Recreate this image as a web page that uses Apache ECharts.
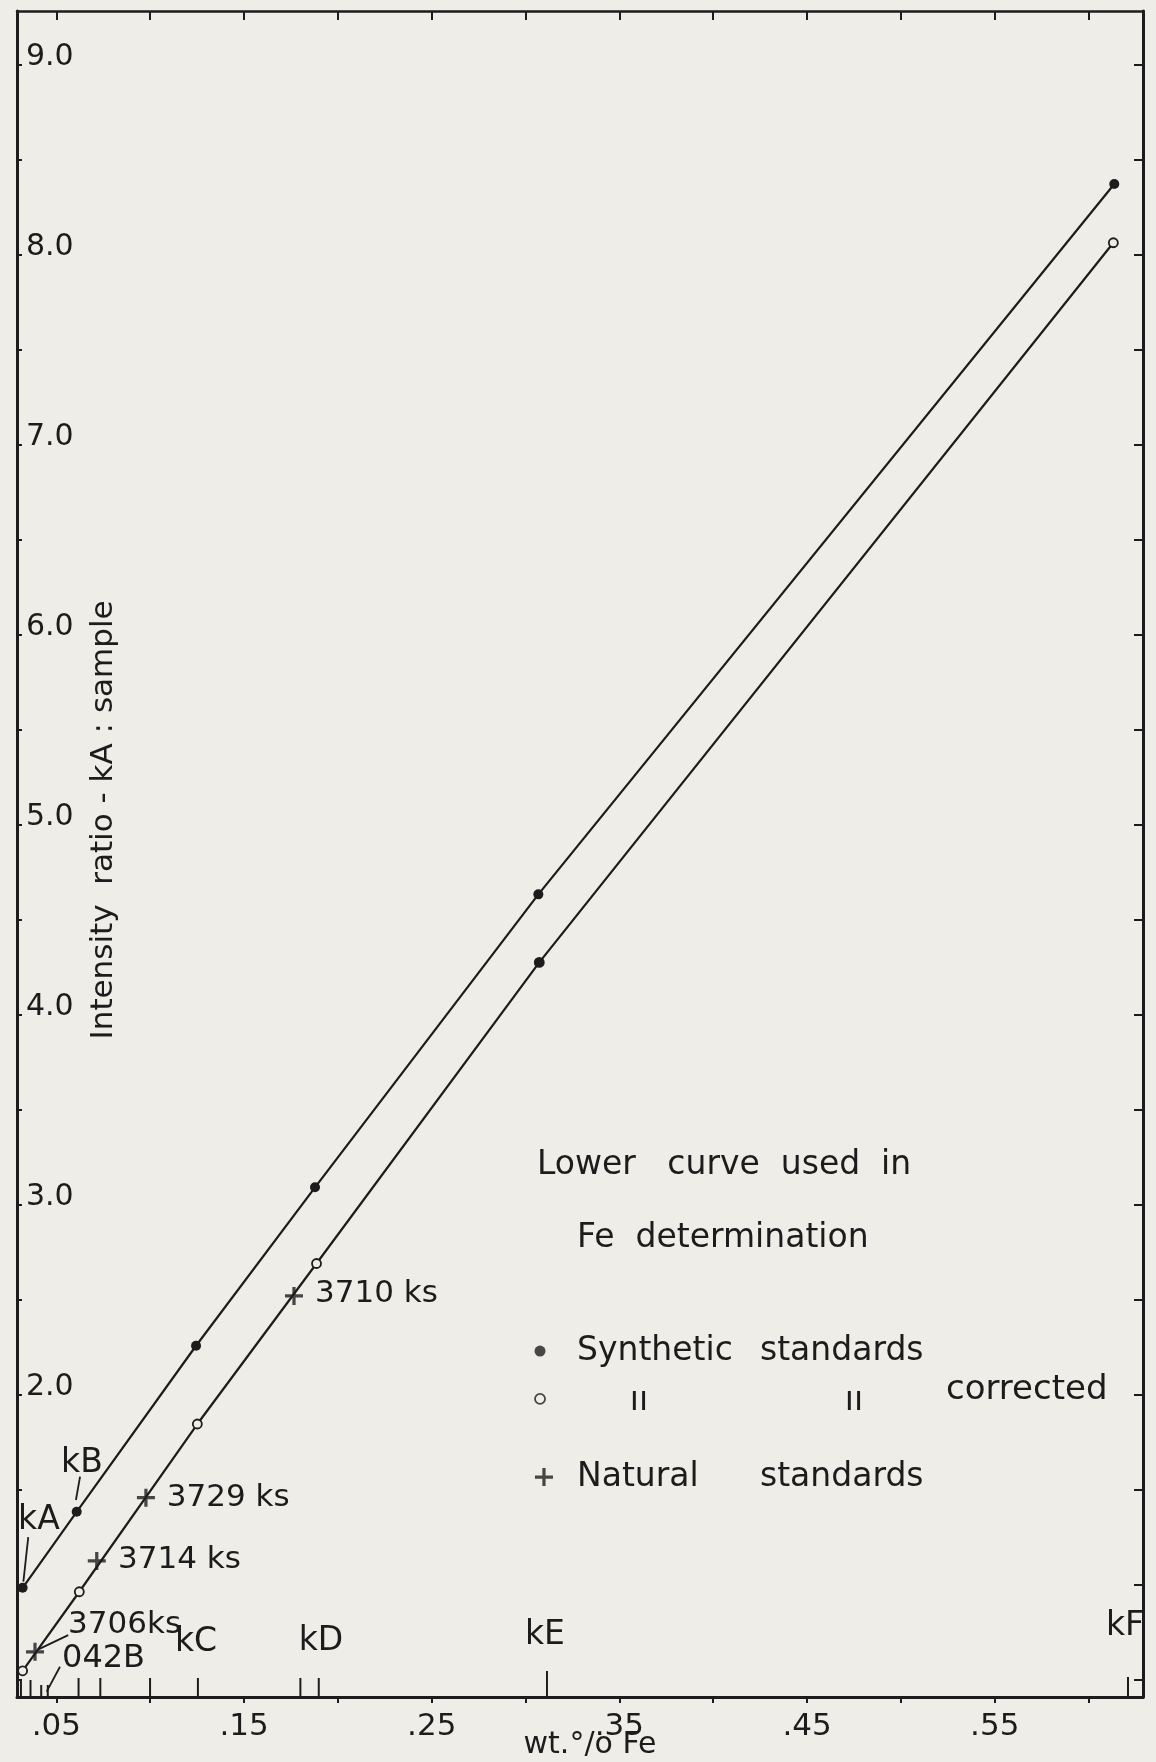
<!DOCTYPE html>
<html><head><meta charset="utf-8">
<script src="https://cdn.jsdelivr.net/npm/echarts@6/dist/echarts.min.js"></script>
<style>html,body{margin:0;padding:0;background:#efede8;overflow:hidden}#c{width:1156px;height:1762px}</style>
</head><body><div id="c"></div>
<script>
// ---- data ----
const upperX = [0.032, 0.0608, 0.1244, 0.1878, 0.3068, 0.6137];
const upperY = [0.985, 1.385, 2.259, 3.093, 4.635, 8.374];
const lowerX = [0.032, 0.0622, 0.1251, 0.1886, 0.3073, 0.6132];
const lowerY = [0.548, 0.964, 1.847, 2.692, 4.277, 8.065];
const lowerFilled = [false, false, false, false, true, false];
const naturalX = [0.0386, 0.0715, 0.0977, 0.1766];
const naturalY = [0.648, 1.126, 1.459, 2.521];
const sampleTickX = [0.0311, 0.0362, 0.0419, 0.0454, 0.0618, 0.0734, 0.0999, 0.1254, 0.18, 0.1898, 0.3114, 0.6210];
const xTickValues = [0.05, 0.10, 0.15, 0.20, 0.25, 0.30, 0.35, 0.40, 0.45, 0.50, 0.55, 0.60];
const xLabelValues = [0.05, 0.15, 0.25, 0.35, 0.45, 0.55];
const yTickValues = [0.5, 1.0, 1.5, 2.0, 2.5, 3.0, 3.5, 4.0, 4.5, 5.0, 5.5, 6.0, 6.5, 7.0, 7.5, 8.0, 8.5, 9.0];
const yLabelValues = [2, 3, 4, 5, 6, 7, 8, 9];
const xMin = 0.029, xMax = 0.629, yMin = 0.41, yMax = 9.285;

// annotations (text placed in data units)
const annoText = ['kA', 'kB', 'kC', 'kD', 'kE', 'kF', '3710 ks', '3729 ks', '3714 ks', '3706ks', '042B'];
const annoX = [0.0407, 0.0636, 0.1244, 0.191, 0.3103, 0.6194, 0.1878, 0.1088, 0.0828, 0.0562, 0.053];
const annoY = [1.342, 1.642, 0.697, 0.705, 0.736, 0.78, 2.531, 1.4575, 1.131, 0.789, 0.61];
const leaderFrom = [[0.035, 1.252], [0.0626, 1.570], [0.0563, 0.736], [0.0519, 0.569]];
const leaderTo = [[0.0324, 1.017], [0.0604, 1.447], [0.0404, 0.661], [0.0448, 0.438]];

const legendText = ['Lower   curve  used  in', 'Fe  determination', 'Synthetic', 'standards', 'ıı', 'ıı', 'corrected', 'Natural', 'standards'];
const legendX = [0.3061, 0.3274, 0.3274, 0.4249, 0.3604, 0.475, 0.524, 0.3274, 0.4249];
const legendY = [3.210, 2.826, 2.231, 2.231, 1.965, 1.965, 2.026, 1.568, 1.568];
const legendDot = [0.3077, 2.231];
const legendCircle = [0.3077, 1.979];
const legendPlus = [0.3098, 1.568];

const yTitle = 'Intensity  ratio - kA : sample';
const yTitlePos = [0.0756, 5.027];
const xTitle = 'wt.°/o Fe';

// ---- styles ----
const INK = '#1c1c1c';
const PAPER = '#efede8';
const FONT = '"DejaVu Sans"';
const annoAlign = ['center', 'center', 'center', 'center', 'center', 'center', 'left', 'left', 'left', 'left', 'left'];
const annoSize = [33, 33, 33, 33, 33, 33, 31, 31, 31, 31, 32];
const legendAlign = ['left', 'left', 'left', 'left', 'center', 'center', 'left', 'left', 'left'];
const legendSize = [33, 33, 33, 33, 33, 33, 34, 33, 33];
const sampleTickLen = [18, 17, 12, 12, 19, 19, 19, 19, 19, 19, 26, 20];
const plusPath = 'path://M4.1,0H5.9V4.1H10V5.9H5.9V10H4.1V5.9H0V4.1H4.1Z';

function textSeries(xs, ys, texts, aligns, sizes, rot) {
  return {
    type: 'custom', coordinateSystem: 'cartesian2d', silent: true, clip: false,
    data: xs.map((x, i) => [x, ys[i]]),
    encode: { x: 0, y: 1 },
    renderItem(params, api) {
      const i = params.dataIndex;
      const p = api.coord([api.value(0), api.value(1)]);
      return {
        type: 'text', x: p[0], y: p[1], rotation: rot || 0,
        style: { text: texts[i], fill: INK, font: `${sizes[i]}px ${FONT}`, align: aligns[i], verticalAlign: 'middle' }
      };
    }
  };
}

const chart = echarts.init(document.getElementById('c'), null, { renderer: 'canvas' });
chart.setOption({
  backgroundColor: PAPER,
  animation: false,
  grid: { left: 17, top: 11, width: 1126, height: 1686, containLabel: false, outerBoundsMode: 'none' },
  xAxis: [{
    type: 'value', min: xMin, max: xMax, position: 'bottom',
    axisLine: { lineStyle: { color: INK, width: 3 } },
    axisTick: { customValues: xTickValues, length: 6, lineStyle: { color: INK, width: 2 } },
    axisLabel: { customValues: xLabelValues, formatter: v => v.toFixed(2).replace(/^0/, ''), color: INK, fontFamily: FONT, fontSize: 31, margin: 14 },
    splitLine: { show: false },
    name: xTitle, nameLocation: 'middle', nameGap: 33, nameMoveOverlap: false,
    nameTextStyle: { color: INK, fontFamily: FONT, fontSize: 30, padding: [0, 0, 0, 20] }
  }, {
    type: 'value', min: xMin, max: xMax, position: 'top',
    axisLine: { lineStyle: { color: INK, width: 2.5 } },
    axisTick: { inside: true, customValues: xTickValues, length: 9, lineStyle: { color: INK, width: 2 } },
    axisLabel: { show: false }, splitLine: { show: false }
  }],
  yAxis: [{
    type: 'value', min: yMin, max: yMax, position: 'left',
    axisLine: { lineStyle: { color: INK, width: 3 } },
    axisTick: { inside: true, customValues: yTickValues, length: 5, lineStyle: { color: INK, width: 2 } },
    axisLabel: { inside: true, customValues: yLabelValues, formatter: v => v.toFixed(1), color: INK, fontFamily: FONT, fontSize: 30, margin: 9, verticalAlign: 'bottom', lineHeight: 16 },
    splitLine: { show: false }
  }, {
    type: 'value', min: yMin, max: yMax, position: 'right',
    axisLine: { lineStyle: { color: INK, width: 3 } },
    axisTick: { inside: true, customValues: yTickValues, length: 9, lineStyle: { color: INK, width: 2 } },
    axisLabel: { show: false }, splitLine: { show: false }
  }],
  series: [
    {
      type: 'line', data: upperX.map((x, i) => [x, upperY[i]]),
      symbol: 'circle', symbolSize: 10, lineStyle: { color: INK, width: 2.2 },
      itemStyle: { color: INK }, z: 3
    },
    {
      type: 'line', data: lowerX.map((x, i) => ({ value: [x, lowerY[i]], itemStyle: { color: lowerFilled[i] ? INK : PAPER } })),
      symbol: 'circle', symbolSize: 9, lineStyle: { color: INK, width: 2.2 },
      itemStyle: { color: PAPER, borderColor: INK, borderWidth: 1.8 }, z: 3
    },
    {
      type: 'scatter', data: naturalX.map((x, i) => [x, naturalY[i]]),
      symbol: plusPath, symbolSize: 18, itemStyle: { color: INK }, z: 4
    },
    {
      type: 'custom', coordinateSystem: 'cartesian2d', silent: true,
      data: sampleTickX.map(x => [x, yMin]), encode: { x: 0, y: 1 },
      renderItem(params, api) {
        const p = api.coord([api.value(0), api.value(1)]);
        return { type: 'line', shape: { x1: p[0], y1: p[1], x2: p[0], y2: p[1] - sampleTickLen[params.dataIndex] }, style: { stroke: INK, lineWidth: 2 } };
      }
    },
    {
      type: 'custom', coordinateSystem: 'cartesian2d', silent: true,
      data: leaderFrom.map((f, i) => [f[0], f[1], leaderTo[i][0], leaderTo[i][1]]), encode: { x: [0, 2], y: [1, 3] },
      renderItem(params, api) {
        const a = api.coord([api.value(0), api.value(1)]);
        const b = api.coord([api.value(2), api.value(3)]);
        return { type: 'line', shape: { x1: a[0], y1: a[1], x2: b[0], y2: b[1] }, style: { stroke: INK, lineWidth: 1.8 } };
      }
    },
    textSeries(annoX, annoY, annoText, annoAlign, annoSize),
    textSeries(legendX, legendY, legendText, legendAlign, legendSize),
    textSeries([yTitlePos[0]], [yTitlePos[1]], [yTitle], ['center'], [31], Math.PI / 2),
    { type: 'scatter', data: [legendDot], symbol: 'circle', symbolSize: 11, itemStyle: { color: INK } },
    { type: 'scatter', data: [legendCircle], symbol: 'circle', symbolSize: 10, itemStyle: { color: PAPER, borderColor: INK, borderWidth: 1.8 } },
    { type: 'scatter', data: [legendPlus], symbol: plusPath, symbolSize: 18, itemStyle: { color: INK } }
  ]
});
</script></body></html>
